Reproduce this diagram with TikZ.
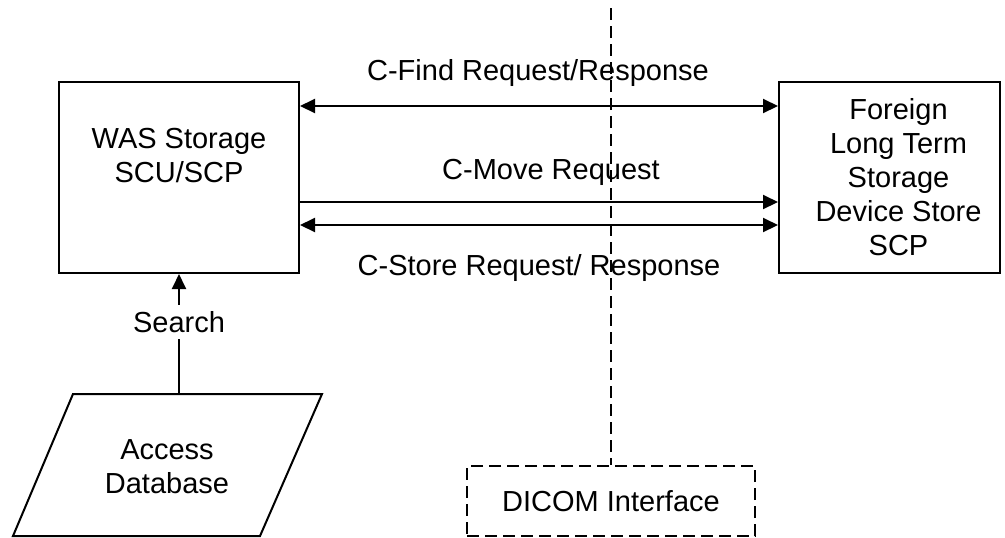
\documentclass[tikz,border=0pt]{standalone}
\usepackage{fontspec}
\setmainfont{Liberation Sans}
\usepackage{tikz}
\usetikzlibrary{arrows.meta,positioning,calc}
\newcommand{\dfont}{\fontsize{14.5}{17}\selectfont}
\tikzset{
  blk/.style={draw, line width=1pt, minimum width=120pt, minimum height=95.5pt, inner sep=0pt, align=center, font=\dfont},
  txt/.style={align=center, font=\dfont},
  ifc/.style={draw, line width=1pt, dash pattern=on 6pt off 3pt, minimum width=144pt, minimum height=35pt, font=\dfont},
  sep/.style={line width=1pt, dash pattern=on 6pt off 3pt},
  msg/.style={font=\dfont},
  oarr/.style={line width=1pt, -{Triangle[length=7.5pt,width=7pt]}},
  darr/.style={line width=1pt, {Triangle[length=7.5pt,width=7pt]}-{Triangle[length=7.5pt,width=7pt]}},
}
\begin{document}
\begin{tikzpicture}[x=0.5pt, y=-0.5pt]
\useasboundingbox (0,0) rectangle (1005,537);
% the two storage ends
\node[blk, label={[txt, yshift=10.75pt]center:WAS Storage\\SCU/SCP}] (was) at (179,177.5) {};
\node[blk, minimum width=110.5pt, label={[txt, xshift=4.5pt]center:Foreign\\ Long Term\\Storage\\Device Store\\SCP}] (fls) at (889.5,177.5) {};
% database and interface
\draw[line width=1pt] (73,394) -- (322,394) -- (260,536) -- (13,536) -- cycle;
\node[txt] (db) at (167,467) {Access\\Database};
\coordinate (dbtop) at (179,394);
\node[ifc] (dicom) at (611,501) {DICOM Interface};
\coordinate (septop) at (611,8);
\draw[sep] (septop) -- (dicom.north);
% messages
\draw[darr] (was.east |- 0,106) -- (fls.west |- 0,106);
\draw[oarr] (was.east |- 0,202) -- (fls.west |- 0,202);
\draw[darr] (was.east |- 0,225) -- (fls.west |- 0,225);
\node[msg] (find) at (538,73) {C-Find Request/Response};
\node[msg] (move) at (551,172) {C-Move Request};
\node[msg] (store) at (539,268) {C-Store Request/ Response};
\draw[oarr] (dbtop) -- node[msg, fill=white, pos=0.6] {Search} (was.south);
\end{tikzpicture}
\end{document}
